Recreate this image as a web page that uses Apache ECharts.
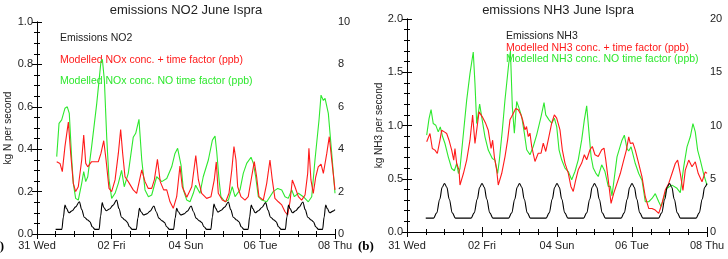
<!DOCTYPE html>
<html>
<head>
<meta charset="utf-8">
<script src="https://cdn.jsdelivr.net/npm/echarts@6/dist/echarts.min.js"></script>
<style>
  html, body { margin: 0; padding: 0; background: #fff; }
  #chart { width: 728px; height: 259px; }
</style>
</head>
<body>
<div id="chart"></div>
<script>
// x values are hours since 31 May 00:00, ticks every 48 h
const DAY_LABELS = ['31 Wed', '02 Fri', '04 Sun', '06 Tue', '08 Thu'];
const TITLES = ['emissions NO2 June Ispra', 'emissions NH3 June Ispra'];
const Y_NAMES = ['kg N per second', 'kg NH3 per second'];
const LEGEND_NO2 = ['Emissions NO2', 'Modelled NOx conc. + time factor (ppb)', 'Modelled NOx conc. NO time factor (ppb)'];
const LEGEND_NH3 = ['Emissions NH3', 'Modelled NH3 conc. + time factor (ppb)', 'Modelled NH3 conc. NO time factor (ppb)'];

// panel (a): NO2 emissions, kg N / s
const NO2_EMIS = [[12,0.022],[16,0.022],[17,0.08],[18,0.137],[19,0.12],[20.6,0.1],[22.7,0.11],[24.9,0.128],[27.3,0.152],[28.8,0.115],[30.5,0.079],[32.7,0.066],[34.1,0.058],[35.6,0.034],[37.4,0.022],
  [40,0.022],[41,0.085],[42,0.148],[43,0.125],[44.6,0.11],[46.7,0.118],[48.9,0.135],[51.3,0.16],[52.8,0.12],[54.5,0.079],[56.7,0.066],[58.1,0.056],[59.6,0.034],[61.4,0.022],
  [64,0.022],[65,0.075],[66,0.121],[67,0.105],[68.6,0.09],[70.7,0.095],[72.9,0.108],[75.3,0.132],[76.8,0.105],[78.5,0.075],[80.7,0.062],[82.1,0.055],[83.6,0.034],[85.4,0.022],
  [88,0.022],[89,0.075],[90,0.121],[91,0.105],[92.6,0.09],[94.7,0.095],[96.9,0.108],[99.3,0.132],[100.8,0.105],[102.5,0.075],[104.7,0.062],[106.1,0.055],[107.6,0.034],[109.4,0.022],
  [112,0.022],[113,0.08],[114,0.141],[115,0.122],[116.6,0.103],[118.7,0.112],[120.9,0.127],[123.3,0.151],[124.8,0.115],[126.5,0.079],[128.7,0.066],[130.1,0.058],[131.6,0.034],[133.4,0.022],
  [136,0.022],[137,0.08],[138,0.137],[139,0.12],[140.6,0.1],[142.7,0.11],[144.9,0.125],[147.3,0.148],[148.8,0.113],[150.5,0.079],[152.7,0.066],[154.1,0.058],[155.6,0.034],[157.4,0.022],
  [160,0.022],[161,0.08],[162,0.137],[163,0.12],[164.6,0.1],[166.7,0.11],[168.9,0.127],[171.3,0.151],[172.8,0.115],[174.5,0.079],[176.7,0.066],[178.1,0.058],[179.6,0.034],[181.4,0.022],
  [184,0.022],[185,0.08],[186,0.137],[187,0.12],[188.6,0.1],[190.7,0.108],[192,0.115]];

// panel (a): modelled NOx, ppb (right axis)
const NOX_TF = [[12.7,3.41],[14.8,3.33],[16.3,2.94],[18,4.12],[20.2,5.28],[21.7,3.8],[23.4,2.39],[24.9,2.0],[26.6,2.23],[28.8,3.49],[30.1,4.67],[31.4,3.33],[32.7,3.17],[35.2,3.41],[39.5,3.41],[41.2,3.8],[43,4.4],[44.5,3.49],[46.4,2.15],[48.1,2.0],[50.3,2.55],[52.4,3.8],[53.9,4.93],[55.2,3.8],[56.7,2.7],[58.8,2.47],[62,2.08],[64.2,1.92],[67.5,3.02],[69.6,2.47],[71.7,2.15],[73.9,2.15],[75.6,2.55],[77.6,3.52],[79.4,2.47],[81.6,2.08],[83.6,2.08],[85.7,1.52],[87.8,1.21],[90,1.76],[92.1,3.21],[93.6,2.23],[96.5,1.73],[99.7,2.23],[102.3,3.7],[104,2.55],[106.1,1.92],[107.1,1.92],[109.3,1.68],[112.1,1.76],[114.2,2.55],[115.5,3.4],[116.8,1.92],[119.4,1.6],[121.6,1.52],[123.7,1.92],[125.5,3.02],[126.9,4.12],[128.2,3.49],[129.3,2.23],[131.4,1.76],[134,1.6],[136.1,1.76],[138.3,2.7],[140,3.41],[141.5,2.7],[143,1.76],[145.8,1.6],[148,2.39],[150.1,3.49],[151.6,2.55],[153.3,1.68],[155.5,1.52],[157.7,1.37],[159.8,1.05],[161.5,0.9],[163,1.52],[164.5,2.55],[166.2,2.23],[168.4,1.76],[170.5,1.6],[172.7,1.84],[174.4,2.86],[175.2,4.04],[176.5,2.55],[178,1.92],[179.6,2.7],[181.2,3.17],[183,3.3],[184.5,2.86],[186.7,3.8],[188.3,4.59],[189.9,3.49],[192,2.08]];
const NOX_NOTF = [[12.7,3.65],[14.2,5.22],[15.9,5.38],[18,5.93],[19.5,6.0],[20.8,5.69],[22.4,3.49],[23.4,2.39],[24.9,1.68],[26.6,1.6],[28.8,2.39],[30.1,2.94],[31.4,2.47],[32.7,2.7],[35.2,4.12],[38.5,6.16],[41.2,8.13],[42.1,8.24],[43.4,7.26],[44.9,4.59],[46.4,2.55],[48.1,1.68],[50.3,1.92],[52.4,2.39],[54.5,3.0],[56.2,2.23],[58.8,2.86],[62,4.56],[63.6,4.75],[65.7,5.41],[67.5,3.49],[69.6,2.08],[71.8,1.76],[73.9,1.84],[77.1,2.7],[80.4,2.47],[83.6,2.62],[86.8,3.17],[88.9,3.8],[90.6,4.04],[92.8,3.25],[94.3,2.08],[96.5,1.6],[98.6,1.52],[100.7,1.92],[102.2,2.3],[105,1.92],[107.1,2.7],[110.4,3.49],[113,4.43],[114.7,4.62],[115.8,3.88],[117.3,2.55],[118.5,1.76],[121.1,1.52],[123.3,1.6],[125.8,2.23],[127.6,1.76],[130.8,2.08],[132.9,2.86],[135.1,3.33],[137.9,3.62],[139.4,3.33],[140.9,2.7],[142.6,1.76],[144.8,1.6],[148,1.52],[150.1,1.76],[152.2,2.0],[155.1,2.15],[157.7,2.08],[159.8,1.76],[161.9,1.68],[164.1,2.08],[165.8,1.76],[168.4,1.92],[171.6,1.76],[174.8,1.52],[177,1.76],[179.1,3.49],[181.7,5.38],[183,6.55],[184.5,6.3],[185.6,6.4],[187.7,5.69],[189.9,3.8],[192,1.92]];

// panel (b): NH3 emissions, kg NH3 / s
const NH3_EMIS = [[12,0.13],[17,0.13],[19,0.18],[21,0.31],[22.5,0.42],[24,0.455],[25.5,0.42],[27,0.31],[29,0.18],[31,0.13],
  [41,0.13],[43,0.18],[45,0.31],[46.5,0.42],[48,0.455],[49.5,0.42],[51,0.31],[53,0.18],[55,0.13],
  [65,0.13],[67,0.18],[69,0.31],[70.5,0.42],[72,0.455],[73.5,0.42],[75,0.31],[77,0.18],[79,0.13],
  [89,0.13],[91,0.18],[93,0.31],[94.5,0.42],[96,0.455],[97.5,0.42],[99,0.31],[101,0.18],[103,0.13],
  [113,0.13],[115,0.18],[117,0.31],[118.5,0.42],[120,0.455],[121.5,0.42],[123,0.31],[125,0.18],[127,0.13],
  [137,0.13],[139,0.18],[141,0.31],[142.5,0.42],[144,0.455],[145.5,0.42],[147,0.31],[149,0.18],[151,0.13],
  [161,0.13],[163,0.18],[165,0.31],[166.5,0.42],[168,0.455],[169.5,0.42],[171,0.31],[173,0.18],[175,0.13],
  [185,0.13],[187,0.18],[189,0.31],[190.5,0.42],[192,0.455]];

// panel (b): modelled NH3, ppb (right axis)
const NH3_TF = [[12.6,8.47],[14.7,9.25],[16.2,7.84],[17.9,7.69],[19.4,7.37],[21.1,8.62],[22.2,9.56],[23.9,9.4],[25.4,9.25],[26.9,8.62],[28.6,7.69],[29.9,6.75],[30.7,7.84],[31.8,6.43],[33.3,5.81],[33.9,4.41],[36.1,5.49],[38.2,6.75],[40.3,8.62],[42,10.97],[43.5,8.31],[44.6,8.16],[46.1,11.28],[48.2,10.81],[50.4,10.18],[52,9.56],[53.8,7.84],[54.8,8.62],[55.9,7.06],[57.4,5.81],[58.4,4.41],[60.6,5.49],[62.7,7.06],[64.4,8.65],[65.9,10.53],[67,10.84],[69.6,11.6],[71.2,11.47],[72.9,11.0],[74,10.53],[75.5,9.59],[76.5,9.9],[77.6,8.96],[78.7,9.28],[79.8,8.03],[81.9,6.62],[83,6.8],[84,7.4],[85.8,7.4],[87.2,8.34],[88.8,7.56],[90.4,8.65],[92.6,10.22],[94.3,11.0],[95.8,10.69],[96.8,10.84],[97.9,9.59],[99.4,7.72],[101.1,6.47],[103.2,5.53],[104.9,4.28],[106.4,3.81],[108,4.9],[109.6,5.84],[111.8,6.47],[113.5,7.25],[115,6.78],[117.1,7.72],[118.6,8.03],[120.3,7.25],[122.4,7.09],[124.6,7.72],[126.1,7.87],[127.2,6.78],[128.8,4.9],[130.6,2.68],[132.3,3.62],[134.4,4.56],[136.5,5.49],[138.7,6.75],[140.4,7.69],[141.9,8.94],[142.9,8.31],[144.6,8.37],[146.1,7.69],[148.3,6.43],[150.4,5.18],[152.5,3.31],[154.7,2.21],[156.8,2.21],[158.9,2.06],[161.1,1.75],[163.2,2.68],[165.3,3.94],[167.5,4.56],[169.6,5.49],[171.7,6.43],[173.2,6.75],[174.9,5.49],[176.6,3.9],[178.1,5.81],[180.3,6.75],[182.4,6.12],[184.5,6.59],[186.4,5.49],[188.8,4.72],[190.9,5.65],[192,5.5]];
const NH3_NOTF = [[12.6,9.09],[14.1,10.65],[15.4,11.5],[16.8,10.18],[18.4,10.03],[20,9.4],[21.3,9.87],[22.8,8.94],[24.3,8.31],[26.4,7.06],[28.6,5.96],[30.3,5.75],[31.8,6.43],[32.9,5.49],[33.9,5.96],[36.1,9.25],[38.2,12.38],[40.3,14.87],[42.4,16.9],[43.5,13.93],[44.6,10.18],[45.6,11.12],[46.5,12.0],[47.8,10.81],[49.9,8.94],[52,7.69],[54.6,6.9],[56.3,6.75],[58,5.49],[59.1,6.75],[61,9.56],[62.7,12.4],[65.1,15.8],[66.2,17.0],[67.4,11.78],[68.7,9.28],[70.2,12.25],[71.7,11.63],[73.4,10.84],[75.1,9.28],[76.6,7.72],[78.7,7.25],[80.8,8.03],[83,9.12],[85.8,10.84],[87.7,12.15],[88.8,11.0],[90.9,10.53],[92.6,10.22],[94.3,10.69],[95.8,9.9],[97.3,7.72],[99,6.78],[101.1,6.0],[103.2,5.68],[105.4,4.9],[107.5,5.68],[109.6,6.78],[111.8,8.65],[113.5,10.53],[115,11.84],[116.5,9.28],[117.8,7.09],[119.2,6.0],[120.8,5.53],[122.4,5.21],[124.6,6.31],[126.7,5.68],[128.8,4.28],[130.1,4.3],[131.2,3.4],[134.4,7.06],[137.6,8.62],[139.1,9.09],[140.8,7.84],[141.9,7.6],[143.4,8.0],[146.1,6.43],[148.3,5.49],[150.4,4.87],[152.5,2.84],[154.7,2.84],[156.8,3.15],[158.9,3.6],[161.1,2.84],[162.6,2.4],[164.3,3.2],[166.4,4.1],[169.6,4.4],[172.8,4.1],[174.9,3.7],[177.1,6.12],[179.2,8.0],[181.3,8.94],[183,10.18],[184.5,9.4],[186,7.69],[187.7,6.75],[189.9,5.4],[192,4.4]];

const FONT = 'Liberation Sans';
const TXT = '#222';
const RED = '#ff1a1a';
const GREEN = '#2ee82e';

const chart = echarts.init(document.getElementById('chart'), null, { renderer: 'canvas' });

function xAxes(gridIndex, margin) {
  const base = {
    gridIndex, type: 'value', min: 0, max: 192, interval: 48,
    axisLine: { lineStyle: { color: '#000', width: 1 } },
    axisTick: { inside: true, length: 5, lineStyle: { color: '#000' } },
    minorTick: { show: true, splitNumber: 4, length: 3, lineStyle: { color: '#000' } },
    splitLine: { show: false },
  };
  return [
    { ...base, position: 'bottom',
      axisLabel: { color: TXT, fontFamily: FONT, fontSize: 11, margin,
        formatter: (v) => DAY_LABELS[Math.round(v / 48)] } },
    { ...base, position: 'top', axisLabel: { show: false } },
  ];
}

function yAxis(gridIndex, position, max, interval, minorSplit, digits, name, nameGap, labelMargin) {
  return {
    gridIndex, type: 'value', position, min: 0, max, interval,
    name, nameLocation: 'middle', nameGap,
    nameTextStyle: { color: TXT, fontFamily: FONT, fontSize: 10 },
    axisLine: { show: true, lineStyle: { color: '#000', width: 1 } },
    axisTick: { inside: true, length: 5, lineStyle: { color: '#000' } },
    minorTick: { show: true, splitNumber: minorSplit, length: 3, lineStyle: { color: '#000' } },
    splitLine: { show: false },
    axisLabel: { color: TXT, fontFamily: FONT, fontSize: 11, margin: labelMargin,
      formatter: (v) => v.toFixed(digits) },
  };
}

function line(data, color, xi, yi, smooth) {
  return {
    type: 'line', data, xAxisIndex: xi, yAxisIndex: yi,
    showSymbol: false, symbol: 'none', animation: false,
    smooth: smooth ? 0.35 : false, smoothMonotone: 'x',
    lineStyle: { color, width: 1.1 }, z: color === '#000' ? 3 : 2,
  };
}

function label(text, x, y, color, size, align) {
  return { type: 'text', x, y,
    style: { text, fill: color, font: `${size}px "${FONT}"`, textAlign: align || 'left', textVerticalAlign: 'middle' } };
}

const option = {
  backgroundColor: '#fff',
  animation: false,
  grid: [
    { left: 37, right: 393, top: 22, bottom: 25, containLabel: false, outerBoundsMode: 'none' },
    { left: 407, right: 21, top: 19, bottom: 27, containLabel: false, outerBoundsMode: 'none' },
  ],
  xAxis: [...xAxes(0, 6), ...xAxes(1, 8)],
  yAxis: [
    yAxis(0, 'left', 1, 0.2, 4, 1, Y_NAMES[0], 24, 4),
    yAxis(0, 'right', 10, 2, 4, 0, '', 0, 3),
    yAxis(1, 'left', 2, 0.5, 5, 1, Y_NAMES[1], 22, 4),
    yAxis(1, 'right', 20, 5, 5, 0, '', 0, 3),
  ],
  series: [
    line(NOX_NOTF, GREEN, 0, 1, false),
    line(NOX_TF, RED, 0, 1, false),
    line(NO2_EMIS, '#000', 0, 0, true),
    line(NH3_NOTF, GREEN, 2, 3, false),
    line(NH3_TF, RED, 2, 3, false),
    line(NH3_EMIS, '#000', 2, 2, true),
  ],
  graphic: [
    label(TITLES[0], 186, 10, TXT, 13, 'center'),
    label(TITLES[1], 558, 10, TXT, 13, 'center'),
    label(LEGEND_NO2[0], 60, 38, TXT, 10.5),
    label(LEGEND_NO2[1], 60, 60, RED, 10.5),
    label(LEGEND_NO2[2], 60, 81, GREEN, 10.5),
    label(LEGEND_NH3[0], 506, 36, TXT, 10.5),
    label(LEGEND_NH3[1], 506, 48, RED, 10.5),
    label(LEGEND_NH3[2], 506, 59, GREEN, 10.5),
    { type: 'text', x: 4, y: 247, style: { text: '(a)', fill: '#000', font: 'bold 13px "Liberation Serif"', textAlign: 'right', textVerticalAlign: 'middle' } },
    { type: 'text', x: 358, y: 247, style: { text: '(b)', fill: '#000', font: 'bold 13px "Liberation Serif"', textAlign: 'left', textVerticalAlign: 'middle' } },
  ],
};

chart.setOption(option);
</script>
</body>
</html>
